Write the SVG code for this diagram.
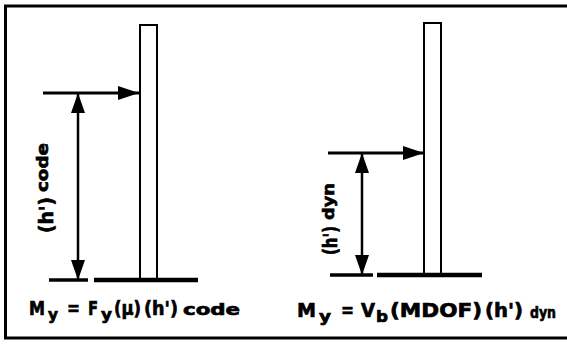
<svg xmlns="http://www.w3.org/2000/svg" width="567" height="344" viewBox="0 0 567 344">
<style>
.frame{stroke:#000;stroke-width:3;fill:none}
.col{fill:#fff;stroke:#000;stroke-width:2}
.ground{stroke:#000;stroke-width:4.5}
.small{stroke:#000;stroke-width:3.5}
.load{stroke:#000;stroke-width:3;fill:none}
.dim{stroke:#000;stroke-width:2.5;fill:none}
text{font-family:"DejaVu Sans","Liberation Sans",sans-serif;font-weight:bold;fill:#000;stroke:#000;stroke-width:0.7}
.big{font-size:20px}
.sub{font-size:16px}
</style>
<defs>
<marker id="ah" markerUnits="userSpaceOnUse" markerWidth="22" markerHeight="16" refX="21" refY="8" orient="auto">
<path d="M0,1 L21,8 L0,15 Z" fill="#000"/>
</marker>
<marker id="dh" markerUnits="userSpaceOnUse" markerWidth="21" markerHeight="16" refX="20" refY="8" orient="auto-start-reverse">
<path d="M0,1 L20,8 L0,15 Z" fill="#000"/>
</marker>
</defs>
<rect width="567" height="344" fill="#fff"/>
<g id="frame">
<path class="frame" d="M567,6 H5.5 V338 H567"/>
</g>
<g id="left-column">
<rect class="col" x="140" y="25" width="17" height="255"/>
<line class="ground" x1="94" y1="280" x2="198" y2="280"/>
<line class="small" x1="49" y1="280" x2="88" y2="280"/>
</g>
<g id="right-column">
<rect class="col" x="424" y="23" width="17" height="252"/>
<line class="ground" x1="377" y1="275" x2="482" y2="275"/>
<line class="small" x1="330" y1="275" x2="373" y2="275"/>
</g>
<g id="connectors">
<line class="load" x1="43" y1="93" x2="139" y2="93" marker-end="url(#ah)"/>
<line class="dim" x1="78" y1="93" x2="78" y2="280" marker-start="url(#dh)" marker-end="url(#dh)"/>
<line class="load" x1="328" y1="153" x2="424" y2="153" marker-end="url(#ah)"/>
<line class="dim" x1="362" y1="153" x2="362" y2="275" marker-start="url(#dh)" marker-end="url(#dh)"/>
</g>
<g id="left-label">
<text class="big" transform="translate(53,233) rotate(-90)" textLength="36" lengthAdjust="spacingAndGlyphs">(h')</text>
<text class="sub" transform="translate(48,192) rotate(-90)" textLength="49" lengthAdjust="spacingAndGlyphs">code</text>
</g>
<g id="right-label">
<text class="big" transform="translate(337,255) rotate(-90)" textLength="29" lengthAdjust="spacingAndGlyphs">(h')</text>
<text class="sub" transform="translate(334,220) rotate(-90)" textLength="37" lengthAdjust="spacingAndGlyphs">dyn</text>
</g>
<g id="left-formula">
<text class="big" x="29" y="315" textLength="16" lengthAdjust="spacingAndGlyphs">M</text>
<text class="sub" x="48" y="320" textLength="10" lengthAdjust="spacingAndGlyphs">y</text>
<text class="big" x="67" y="315" textLength="13" lengthAdjust="spacingAndGlyphs">=</text>
<text class="big" x="88" y="315" textLength="10" lengthAdjust="spacingAndGlyphs">F</text>
<text class="sub" x="101" y="320" textLength="11" lengthAdjust="spacingAndGlyphs">y</text>
<text class="big" x="114" y="315" textLength="27" lengthAdjust="spacingAndGlyphs">(μ)</text>
<text class="big" x="144" y="315" textLength="34" lengthAdjust="spacingAndGlyphs">(h')</text>
<text class="sub" x="183" y="315" textLength="57" lengthAdjust="spacingAndGlyphs">code</text>
</g>
<g id="right-formula">
<text class="big" x="297" y="317" textLength="19" lengthAdjust="spacingAndGlyphs">M</text>
<text class="sub" x="319" y="322" textLength="12" lengthAdjust="spacingAndGlyphs">y</text>
<text class="big" x="341" y="317" textLength="13" lengthAdjust="spacingAndGlyphs">=</text>
<text class="big" x="361" y="317" textLength="14" lengthAdjust="spacingAndGlyphs">V</text>
<text class="sub" x="376" y="322" textLength="12" lengthAdjust="spacingAndGlyphs">b</text>
<text class="big" x="390" y="317" textLength="92" lengthAdjust="spacingAndGlyphs">(MDOF)</text>
<text class="big" x="485" y="317" textLength="38" lengthAdjust="spacingAndGlyphs">(h')</text>
<text class="sub" x="530" y="318" textLength="26" lengthAdjust="spacingAndGlyphs">dyn</text>
</g>
</svg>
